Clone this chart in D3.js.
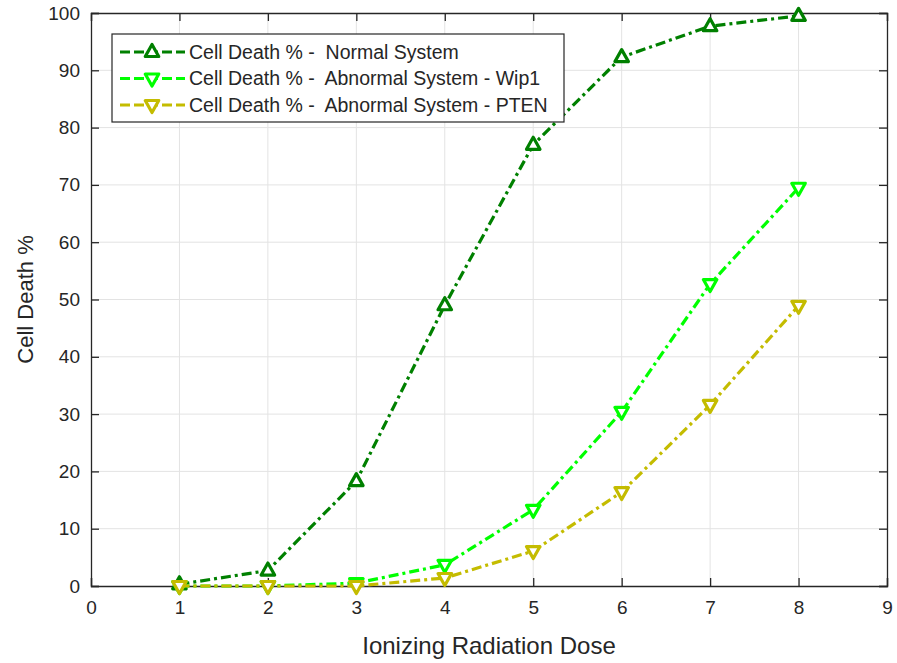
<!DOCTYPE html>
<html>
<head>
<meta charset="utf-8">
<script src="https://cdn.jsdelivr.net/npm/d3@7"></script>
<style>
  body { margin: 0; background: #fff; }
  svg text { font-family: "Liberation Sans", Arial, sans-serif; fill: #262626; white-space: pre; }
</style>
</head>
<body>
<div id="chart"></div>
<script>
// data
var doses = [1, 2, 3, 4, 5, 6, 7, 8];
var normal = [0.3, 2.7, 18.3, 49, 77, 92.3, 97.7, 99.5];
var wip1 = [0, 0, 0.5, 3.7, 13.3, 30.4, 52.7, 69.5];
var pten = [0, 0, 0, 1.4, 6.1, 16.4, 31.6, 48.9];
var xTicks = [0, 1, 2, 3, 4, 5, 6, 7, 8, 9];
var yTicks = [0, 10, 20, 30, 40, 50, 60, 70, 80, 90, 100];

var series = [
  {name: "Cell Death % -  Normal System", values: normal, color: "#008000", marker: "up"},
  {name: "Cell Death % -  Abnormal System - Wip1", values: wip1, color: "#00ff00", marker: "down"},
  {name: "Cell Death % -  Abnormal System - PTEN", values: pten, color: "#c4bc00", marker: "down"}
];

var width = 897, height = 663;
var margin = {left: 91, right: 10, top: 13, bottom: 77};

var svg = d3.select("#chart").append("svg")
    .attr("width", width)
    .attr("height", height);

var x = d3.scaleLinear().domain([0, 9]).range([margin.left, width - margin.right]);
var y = d3.scaleLinear().domain([0, 100]).range([height - margin.bottom, margin.top]);

// grid
svg.append("g").selectAll("line").data(xTicks.slice(1, -1)).enter().append("line")
    .attr("x1", function(d){return x(d);}).attr("x2", function(d){return x(d);})
    .attr("y1", y(0)).attr("y2", y(100))
    .attr("stroke", "#e3e3e3").attr("stroke-width", 1);
svg.append("g").selectAll("line").data(yTicks.slice(1, -1)).enter().append("line")
    .attr("y1", function(d){return y(d);}).attr("y2", function(d){return y(d);})
    .attr("x1", x(0)).attr("x2", x(9))
    .attr("stroke", "#e3e3e3").attr("stroke-width", 1);

// axes (ticks pointing inward)
var xAxis = svg.append("g")
    .attr("transform", "translate(0," + y(0) + ")")
    .call(d3.axisBottom(x).tickValues(xTicks).tickSize(-8).tickPadding(15).tickFormat(d3.format("d")));
var yAxis = svg.append("g")
    .attr("transform", "translate(" + x(0) + ",0)")
    .call(d3.axisLeft(y).tickValues(yTicks).tickSize(-8).tickPadding(11).tickFormat(d3.format("d")));
var xTop = svg.append("g")
    .attr("transform", "translate(0," + y(100) + ")")
    .call(d3.axisTop(x).tickValues(xTicks).tickSize(-8).tickFormat(""));
var yRight = svg.append("g")
    .attr("transform", "translate(" + x(9) + ",0)")
    .call(d3.axisRight(y).tickValues(yTicks).tickSize(-8).tickFormat(""));

[xAxis, yAxis, xTop, yRight].forEach(function(g) {
  g.select(".domain").attr("stroke", "#262626").attr("stroke-width", 1.3);
  g.selectAll(".tick line").attr("stroke", "#262626").attr("stroke-width", 1.3);
  g.selectAll("text").style("font-size", "19px").attr("fill", "#262626");
});
xAxis.selectAll("text").attr("dy", "0.71em");

// lines
var line = d3.line()
    .x(function(d, i){return x(doses[i]);})
    .y(function(d){return y(d);});

var markerSize = 7.5;
function tri(dir) {
  var s = markerSize;
  if (dir === "up") return "M0," + (-s) + "L" + (s*0.9) + "," + (s*0.6) + "L" + (-s*0.9) + "," + (s*0.6) + "Z";
  return "M0," + s + "L" + (s*0.9) + "," + (-s*0.6) + "L" + (-s*0.9) + "," + (-s*0.6) + "Z";
}

series.forEach(function(s) {
  svg.append("path")
      .datum(s.values)
      .attr("d", line)
      .attr("fill", "none")
      .attr("stroke", s.color)
      .attr("stroke-width", 3.2)
      .attr("stroke-dasharray", "10,4,3,4");
  svg.append("g").selectAll("path").data(s.values).enter().append("path")
      .attr("transform", function(d, i){return "translate(" + x(doses[i]) + "," + y(d) + ")";})
      .attr("d", tri(s.marker))
      .attr("fill", "#fff")
      .attr("stroke", s.color)
      .attr("stroke-width", 3.2)
      .attr("stroke-linejoin", "round");
});

// axis labels
svg.append("text")
    .attr("x", (x(0) + x(9)) / 2)
    .attr("y", 654)
    .attr("text-anchor", "middle")
    .style("font-size", "24px")
    .text("Ionizing Radiation Dose");
svg.append("text")
    .attr("transform", "translate(33," + ((y(0) + y(100)) / 2) + ") rotate(-90)")
    .attr("text-anchor", "middle")
    .style("font-size", "22px")
    .text("Cell Death %");

// legend
var legend = svg.append("g").attr("transform", "translate(112,34)");
legend.append("rect")
    .attr("width", 452).attr("height", 88)
    .attr("fill", "#fff").attr("stroke", "#262626").attr("stroke-width", 1.2);
series.forEach(function(s, i) {
  var cy = 18 + i * 26.5;
  var row = legend.append("g").attr("transform", "translate(0," + cy + ")");
  row.append("line")
      .attr("x1", 8).attr("x2", 73)
      .attr("stroke", s.color).attr("stroke-width", 3.2)
      .attr("stroke-dasharray", "10,4");
  row.append("path")
      .attr("transform", "translate(40,0)")
      .attr("d", tri(s.marker))
      .attr("fill", "#fff").attr("stroke", s.color).attr("stroke-width", 3.2)
      .attr("stroke-linejoin", "round");
  row.append("text")
      .attr("x", 77).attr("dy", "0.35em")
      .style("font-size", "19.5px")
      .text(s.name);
});
</script>
</body>
</html>
